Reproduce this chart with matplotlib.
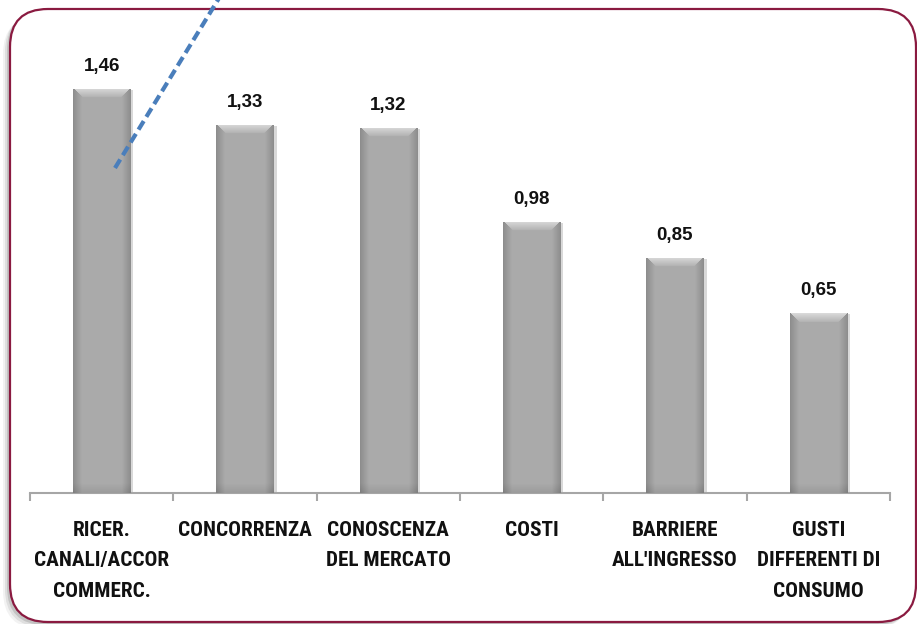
import matplotlib
matplotlib.use("Agg")
import matplotlib.pyplot as plt
from matplotlib import font_manager
from matplotlib.patches import FancyBboxPatch
from matplotlib.lines import Line2D
from matplotlib.transforms import IdentityTransform, ScaledTranslation
import numpy as np

categories = ["RICER.\nCANALI/ACCOR\nCOMMERC.", "CONCORRENZA", "CONOSCENZA\nDEL MERCATO",
              "COSTI", "BARRIERE\nALL'INGRESSO", "GUSTI\nDIFFERENTI DI\nCONSUMO"]
values = [1.46, 1.33, 1.32, 0.98, 0.85, 0.65]
value_labels = ["1,46", "1,33", "1,32", "0,98", "0,85", "0,65"]

names = {f.name for f in font_manager.fontManager.ttflist}
cat_font = dict(family="DejaVu Sans", stretch="condensed")
cat_size = 12.3
for fam, size in [("Liberation Sans Narrow", 14.5), ("Roboto Condensed", 15.3), ("Roboto", 13.2)]:
    if fam in names:
        cat_font = dict(family=fam)
        cat_size = size
        break
val_font = dict(family="Liberation Sans" if "Liberation Sans" in names else "DejaVu Sans")

W, H = 917, 624
fig = plt.figure(figsize=(W / 100, H / 100), dpi=100)
fig.patch.set_facecolor("white")

# frame shadow + frame (pixel coordinates, origin bottom-left)
bx0, by0, bx1, by1 = 10, H - 622, 916, H - 9
for off, a in [(7, 0.05), (5, 0.08), (3, 0.12)]:
    fig.patches.append(FancyBboxPatch((bx0 - off, by0 - off), bx1 - bx0, by1 - by0,
                                      boxstyle="round,pad=0,rounding_size=38",
                                      transform=IdentityTransform(), facecolor="black",
                                      edgecolor="none", alpha=a, zorder=0))
fig.patches.append(FancyBboxPatch((bx0, by0), bx1 - bx0, by1 - by0,
                                  boxstyle="round,pad=0,rounding_size=38",
                                  transform=IdentityTransform(), facecolor="white",
                                  edgecolor="#8A1A40", linewidth=1.6, zorder=1))

ax = fig.add_axes([30 / W, 1 - 493 / H, 860 / W, (493 - 50) / H])
ax.set_zorder(2)
ax.patch.set_visible(False)
ymax = 1.6
ax.set_ylim(0, ymax)
ax.set_xlim(-0.5, len(values) - 0.5)
x = np.arange(len(values))

shadow_tr = ax.transData + ScaledTranslation(3 / 100, -1 / 100, fig.dpi_scale_trans)
ax.bar(x, values, width=0.4, color="black", alpha=0.15, transform=shadow_tr, zorder=1)
bars = ax.bar(x, values, width=0.4, color="#ABABAB", edgecolor="none", zorder=2)

ppu = 443 / ymax  # pixels per data unit
for i, b in enumerate(bars):
    x0, w, h = b.get_x(), b.get_width(), b.get_height()
    wp = 57
    hp = int(round(h * ppu))
    u = np.arange(wp)[None, :] + 0.5
    v = np.arange(hp)[:, None] + 0.5
    dl, dr, dt, db = u, wp - u, v, hp - v
    img = np.full((hp, wp), 0.67)
    img = img - 0.06 * np.clip(1 - db / 10, 0, 1)
    d = 9.0
    side = np.minimum(dl, dr)
    m_side = (side < d) & (side <= dt)
    img = np.where(m_side, img - 0.12 * (1 - side / d), img)
    m_top = (dt < d) & (dt < side)
    img = np.where(m_top, 0.86 - 0.16 * (dt / d), img)
    rgb = np.dstack([img, img, img])
    im = ax.imshow(rgb, extent=(x0, x0 + w, 0, h), aspect="auto", zorder=3,
                   interpolation="bilinear")
    im.set_clip_path(b)
    ax.annotate(value_labels[i], (x0 + w / 2, h), xytext=(0, 16),
                textcoords="offset points", ha="center", va="center",
                fontsize=13.5, fontweight="bold", color="#111111", zorder=4, **val_font)

ax.set_xlim(-0.5, len(values) - 0.5)
ax.set_ylim(0, ymax)
for s in ["top", "right", "left"]:
    ax.spines[s].set_visible(False)
ax.spines["bottom"].set_color("#A6A6A6")
ax.spines["bottom"].set_linewidth(1.5)
ax.set_yticks([])
ax.set_xticks(x)
ax.set_xticklabels(categories, fontsize=cat_size, fontweight="bold", color="#111111",
                   linespacing=1.78, va="top", **cat_font)
ax.set_xticks(np.arange(-0.5, len(values), 1), minor=True)
ax.tick_params(axis="x", which="major", length=0, pad=20)
ax.tick_params(axis="x", which="minor", length=6, width=1.5, color="#A6A6A6")

# decorative dashed connector line
p0 = (115 / W, 1 - 168 / H)
p1 = (224 / W, 1 + 10 / H)
fig.add_artist(Line2D([p0[0], p1[0]], [p0[1], p1[1]], transform=fig.transFigure,
                      color="#4A7EBB", linewidth=3, linestyle=(0, (2.4, 1.2)), zorder=10))

fig.savefig("out.png", dpi=100)
